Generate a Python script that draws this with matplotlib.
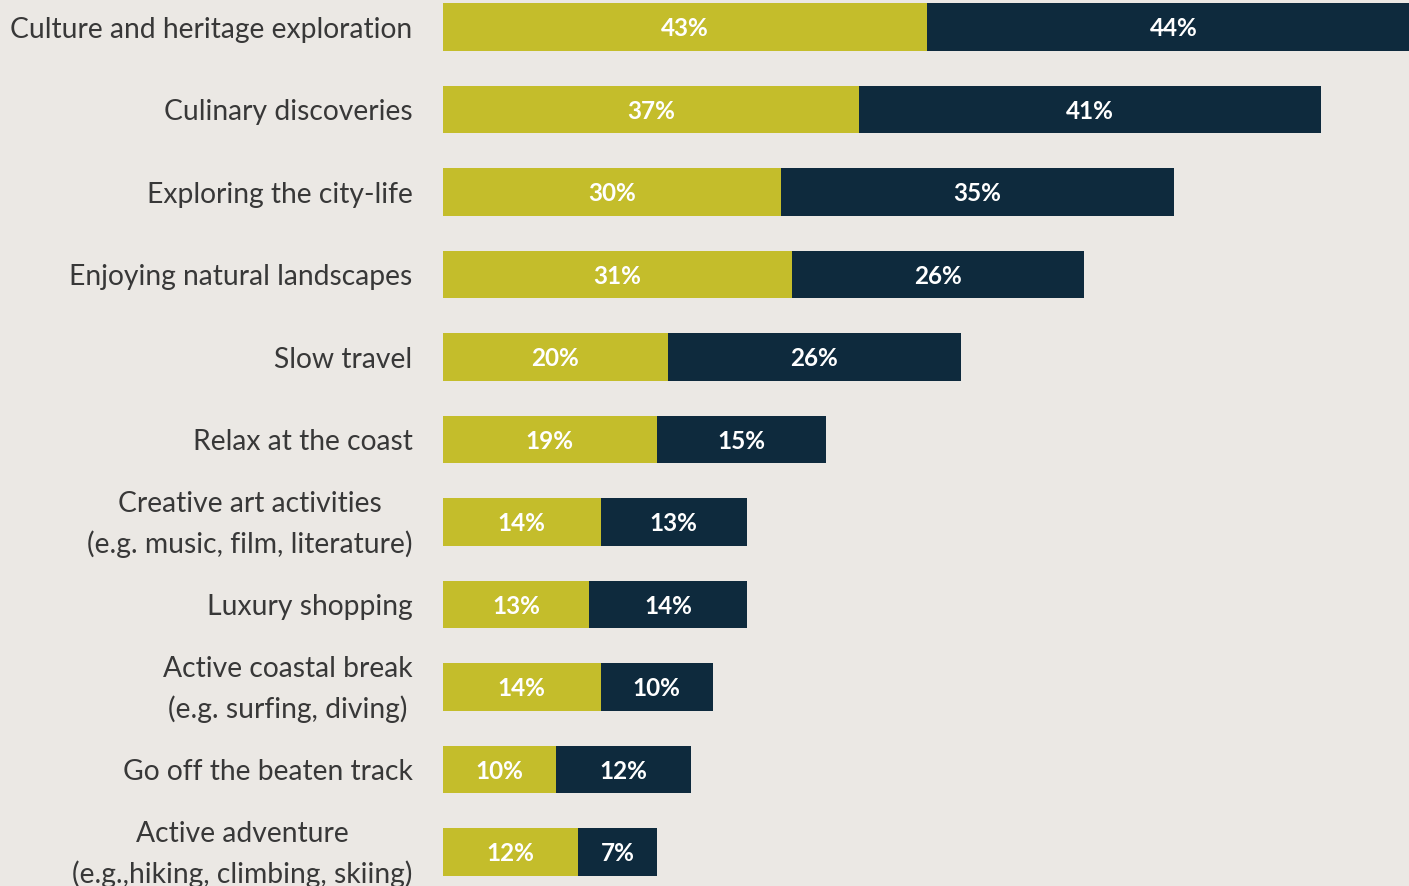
import matplotlib
matplotlib.use("Agg")
import matplotlib.pyplot as plt

categories = [
    "Culture and heritage exploration",
    "Culinary discoveries",
    "Exploring the city-life",
    "Enjoying natural landscapes",
    "Slow travel",
    "Relax at the coast",
    "Creative art activities\n(e.g. music, film, literature)",
    "Luxury shopping",
    "Active coastal break\n(e.g. surfing, diving)",
    "Go off the beaten track",
    "Active adventure\n(e.g.,hiking, climbing, skiing)",
]
series_a = [43, 37, 30, 31, 20, 19, 14, 13, 14, 10, 12]
series_b = [44, 41, 35, 26, 26, 15, 13, 14, 10, 12, 7]

BG = "#ebe8e4"
YEL = "#c4bd2b"
NAVY = "#0e2a3d"
TXT = "#383838"

W, H = 1409, 887
fig = plt.figure(figsize=(W / 100, H / 100), dpi=100, facecolor=BG)
x0 = 443 / W
ax = fig.add_axes([x0, 0, 1 - x0, 1])
ax.set_facecolor(BG)

y = list(range(len(categories)))
ax.barh(y, series_a, height=0.58, color=YEL, edgecolor="none")
ax.barh(y, series_b, left=series_a, height=0.58, color=NAVY, edgecolor="none")

for i, (a, b) in enumerate(zip(series_a, series_b)):
    ax.text(a / 2, i + 0.01, f"{a}%", ha="center", va="center", color="white",
            fontsize=17.5, fontweight="bold", family="Lato")
    ax.text(a + b / 2, i + 0.01, f"{b}%", ha="center", va="center", color="white",
            fontsize=17.5, fontweight="bold", family="Lato")
    ax.text(-2.7, i + 0.02, categories[i], ha="right", va="center", color=TXT,
            fontsize=20.3, family="Lato", linespacing=1.62,
            multialignment="center")

ax.set_xlim(0, 966 / 11.25)
ax.set_ylim((887 - 28) / 82.5, -28 / 82.5)
ax.axvline(-0.2, color="#f4f2ef", lw=1.5)
ax.axis("off")

fig.savefig("out.png", dpi=100, facecolor=BG)
